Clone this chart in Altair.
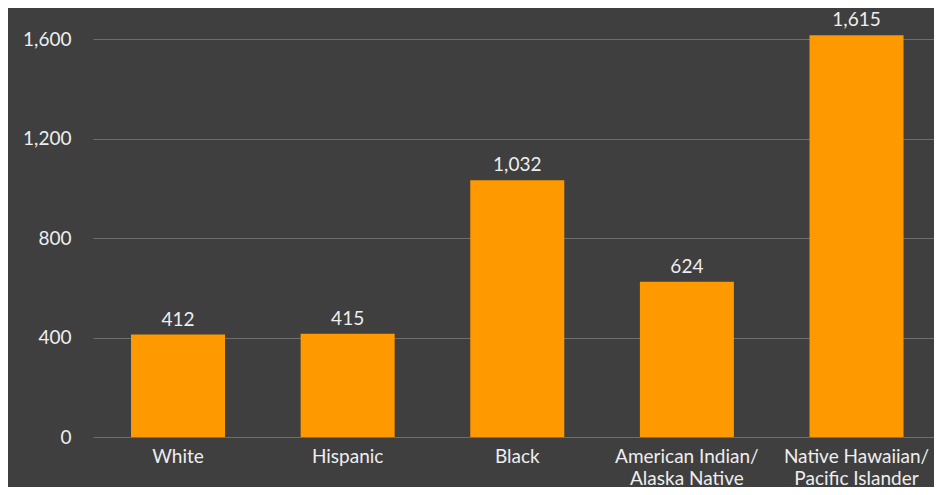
import altair as alt
import pandas as pd

categories = ["White", "Hispanic", "Black", "American Indian/\nAlaska Native", "Native Hawaiian/\nPacific Islander"]
values = [412, 415, 1032, 624, 1615]
y_ticks = [0, 400, 800, 1200, 1600]

df = pd.DataFrame({"group": categories, "value": values})

FONT = "Lato"
TXT = "#eeeeee"
FS = 19

x = alt.X(
    "group:N",
    sort=categories,
    scale=alt.Scale(paddingInner=0.4458, paddingOuter=0.2019, align=0.555),
    axis=alt.Axis(
        title=None, labelAngle=0, ticks=False, domain=False, grid=False,
        labelFont=FONT, labelFontSize=FS, labelColor=TXT, labelPadding=10,
        labelLineHeight=22, labelExpr="split(datum.label, '\\n')",
        labelBaseline="top",
    ),
)
y = alt.Y(
    "value:Q",
    scale=alt.Scale(domain=[0, 1725], nice=False),
    axis=alt.Axis(
        title=None, values=y_ticks, format=",.0f", ticks=False, domain=False,
        grid=True, gridColor="#6e6e6e", gridWidth=1.2,
        labelFont=FONT, labelFontSize=FS, labelColor=TXT, labelPadding=22,
    ),
)

bars = alt.Chart(df).mark_bar(color="#ff9900").encode(x=x, y=y)
labels = alt.Chart(df).mark_text(
    font=FONT, fontSize=FS, color=TXT, baseline="alphabetic", dy=-9
).encode(x=alt.X("group:N", sort=categories), y="value:Q", text=alt.Text("value:Q", format=",.0f"))

chart = (
    (bars + labels)
    .properties(
        width=841, height=429,
        autosize=alt.AutoSizeParams(type="none"),
        padding={"left": 85, "top": 0, "right": 0, "bottom": 50},
        background="#3f3f3f",
    )
    .configure_view(stroke=None)
)

chart.save("out.html", embed_options={"renderer": "svg", "actions": False})
